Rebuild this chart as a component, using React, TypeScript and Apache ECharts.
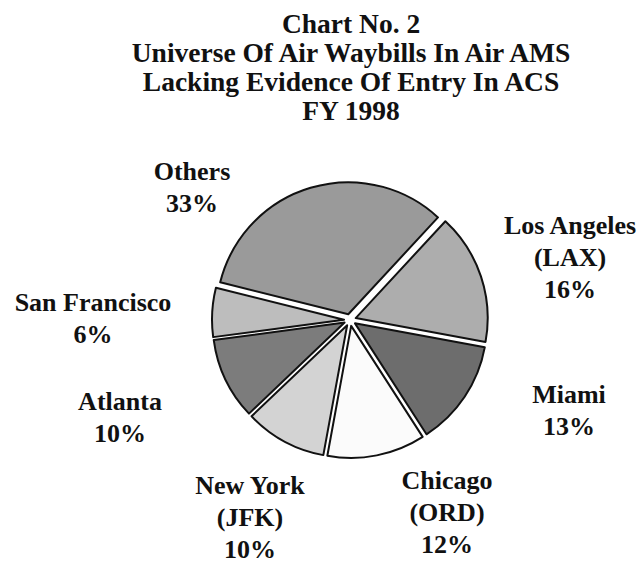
import React, { useEffect, useRef } from "react";
import * as echarts from "echarts";

const titleLines = [
  "Chart No. 2",
  "Universe Of Air Waybills In Air AMS",
  "Lacking Evidence Of Entry In ACS",
  "FY 1998",
];
const categories = [
  "Others",
  "Los Angeles\n(LAX)",
  "Miami",
  "Chicago\n(ORD)",
  "New York\n(JFK)",
  "Atlanta",
  "San Francisco",
];
const shares = [33, 16, 13, 12, 10, 10, 6];
const sliceColors = ["#9a9a9a", "#adadad", "#6d6d6d", "#fbfbfb", "#d3d3d3", "#7c7c7c", "#bdbdbd"];
// label block centres (layout only)
const labelCenters: [number, number][] = [
  [192, 187],
  [570, 257],
  [569, 410],
  [447, 512],
  [250, 517],
  [120, 417],
  [93, 318],
];

const FONT = "Liberation Serif";

export default function App() {
  const ref = useRef<HTMLDivElement>(null);
  useEffect(() => {
    if (!ref.current) return;
    const chart = echarts.init(ref.current, null, { renderer: "svg" });
    const total = shares.reduce((a, b) => a + b, 0);
    chart.setOption({
      animation: false,
      backgroundColor: "#ffffff",
      title: {
        text: titleLines.join("\n"),
        left: 346,
        top: 4,
        textAlign: "center",
        textStyle: {
          fontFamily: FONT,
          fontWeight: "bold",
          fontSize: 27.5,
          lineHeight: 29,
          color: "#111",
        },
      },
      graphic: categories.map((name, i) => ({
        type: "text",
        x: labelCenters[i][0],
        y: labelCenters[i][1],
        silent: true,
        style: {
          text: name + "\n" + Math.round((shares[i] / total) * 100) + "%",
          fontFamily: FONT,
          fontWeight: "bold",
          fontSize: 26,
          lineHeight: 32,
          fill: "#111",
          align: "center",
          verticalAlign: "middle",
        },
      })),
      series: [
        {
          type: "pie",
          center: [350, 320],
          radius: 132,
          startAngle: 166,
          clockwise: true,
          selectedMode: "multiple",
          selectedOffset: 6,
          emphasis: { disabled: true },
          itemStyle: { borderColor: "#111", borderWidth: 2 },
          label: { show: false },
          labelLine: { show: false },
          data: categories.map((name, i) => ({
            name,
            value: shares[i],
            selected: true,
            itemStyle: { color: sliceColors[i] },
          })),
        },
      ],
    });
    return () => chart.dispose();
  }, []);
  return (
    <div
      ref={ref}
      style={{ position: "fixed", left: 0, top: 0, width: 642, height: 563, background: "#fff" }}
    />
  );
}
